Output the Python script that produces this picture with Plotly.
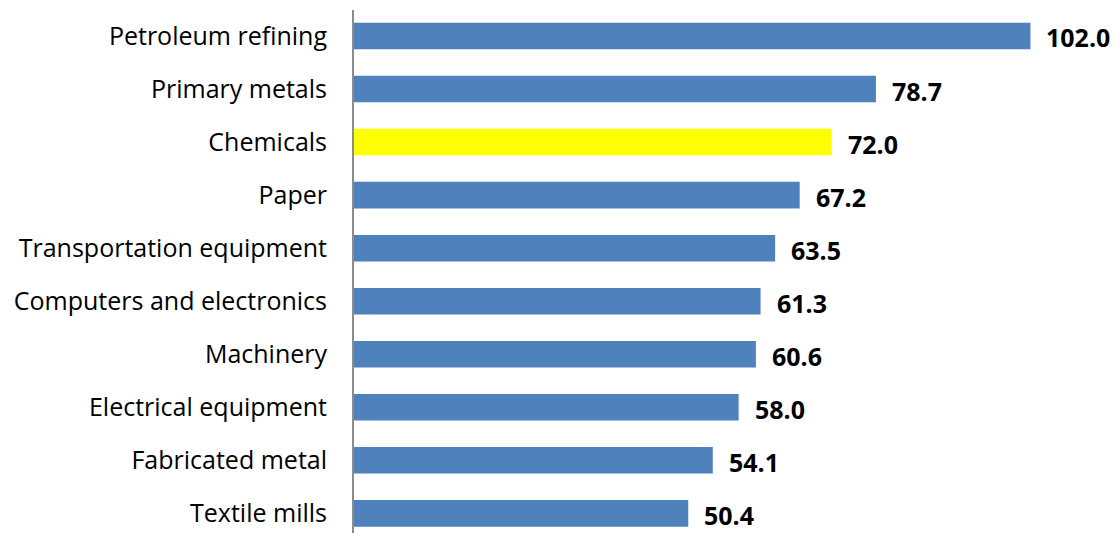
import plotly.graph_objects as go

# Industries listed bottom-to-top (Plotly draws the first category at the bottom)
industries = [
    "Textile mills",
    "Fabricated metal",
    "Electrical equipment",
    "Machinery",
    "Computers and electronics",
    "Transportation equipment",
    "Paper",
    "Chemicals",
    "Primary metals",
    "Petroleum refining",
]
values = [50.4, 54.1, 58.0, 60.6, 61.3, 63.5, 67.2, 72.0, 78.7, 102.0]
highlight = "Chemicals"

BLUE = "#4F81BD"
YELLOW = "#FFFF00"
bar_colors = [YELLOW if name == highlight else BLUE for name in industries]

FONT = "Open Sans, Calibri, Carlito, sans-serif"

fig = go.Figure(
    go.Bar(
        x=values,
        y=industries,
        orientation="h",
        width=0.5,
        marker=dict(color=bar_colors, line=dict(width=0)),
        hoverinfo="skip",
    )
)

# Bold value labels just to the right of each bar
for name, val in zip(industries, values):
    fig.add_annotation(
        x=val,
        y=name,
        text=f"<b>{val:.1f}</b>",
        showarrow=False,
        xanchor="left",
        yanchor="middle",
        xshift=14,
        yshift=-1.5,
        font=dict(family=FONT, size=25, color="#000000"),
    )

fig.update_layout(
    width=1118,
    height=533,
    margin=dict(l=354, r=0, t=10, b=0),
    paper_bgcolor="white",
    plot_bgcolor="white",
    showlegend=False,
    font=dict(family=FONT, size=25, color="#000000"),
    xaxis=dict(
        range=[0, 115.2],
        visible=False,
        showgrid=False,
        zeroline=False,
    ),
    yaxis=dict(
        type="category",
        categoryorder="array",
        categoryarray=industries,
        range=[-0.37, 9.49],
        showgrid=False,
        zeroline=False,
        showline=True,
        linecolor="#8C8C8C",
        linewidth=2,
        ticks="",
        ticklabelstandoff=20,
        tickfont=dict(family=FONT, size=25, color="#000000"),
    ),
)

fig.write_html("out.html")
